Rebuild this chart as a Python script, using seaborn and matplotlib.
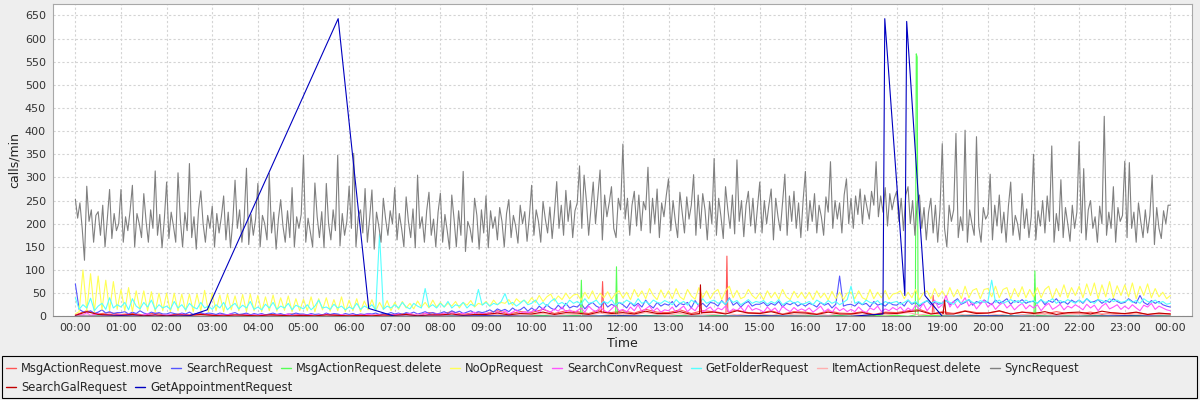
import numpy as np
import pandas as pd
import matplotlib
matplotlib.use("Agg")
import matplotlib.pyplot as plt
import seaborn as sns
from matplotlib.lines import Line2D
from matplotlib.patches import Rectangle

# ---------------- data ----------------
series_names = ["MsgActionRequest.move", "SearchRequest", "MsgActionRequest.delete",
                "NoOpRequest", "SearchConvRequest", "GetFolderRequest",
                "ItemActionRequest.delete", "SyncRequest", "SearchGalRequest",
                "GetAppointmentRequest"]
series_colors = ["#FF5555", "#5555FF", "#55FF55", "#FFFF55", "#FF55FF", "#55FFFF",
                 "#FFAFAF", "#808080", "#C00000", "#0000C0"]
hour_ticks = list(range(0, 25))
hour_labels = ["00:00", "01:00", "02:00", "03:00", "04:00", "05:00", "06:00", "07:00",
               "08:00", "09:00", "10:00", "11:00", "12:00", "13:00", "14:00", "15:00",
               "16:00", "17:00", "18:00", "19:00", "20:00", "21:00", "22:00", "23:00", "00:00"]
y_ticks = [0, 50, 100, 150, 200, 250, 300, 350, 400, 450, 500, 550, 600, 650]

# SyncRequest, one value every 3 minutes (20 per hour)
sync_step_min = 3
sync_calls = [
    253, 212, 245, 190, 121, 281, 205, 230, 160, 218, 226, 175, 240, 150, 210, 274, 168, 222, 185, 200,
    274, 160, 215, 185, 228, 283, 150, 222, 200, 170, 265, 205, 160, 230, 190, 314, 175, 220, 148, 210,
    290, 168, 225, 195, 160, 310, 210, 150, 224, 185, 330, 170, 215, 145, 230, 271, 200, 160, 218, 190,
    238, 150, 222, 180, 215, 260, 165, 225, 148, 205, 294, 190, 230, 160, 212, 320, 155, 220, 175, 210,
    287, 150, 218, 200, 165, 309, 180, 225, 145, 210, 252, 195, 160, 228, 170, 278, 150, 215, 190, 220,
    348, 160, 212, 182, 150, 288, 215, 170, 226, 148, 287, 200, 165, 230, 185, 348, 152, 222, 175, 205,
    281, 190, 352, 150, 215, 230, 180, 276, 160, 212, 273, 145, 225, 195, 160, 255, 210, 175, 228, 200,
    278, 165, 222, 190, 150, 258, 205, 170, 232, 148, 305, 190, 215, 160, 228, 268, 175, 210, 150, 225,
    266, 160, 220, 185, 145, 262, 210, 150, 228, 175, 313, 140, 205, 190, 160, 255, 218, 145, 230, 180,
    260, 148, 228, 190, 215, 165, 235, 205, 150, 222, 252, 170, 218, 195, 158, 240, 200, 226, 162, 215,
    283, 175, 230, 205, 160, 248, 210, 180, 236, 168, 225, 291, 190, 240, 175, 272, 205, 250, 170, 228,
    245, 325, 190, 305, 250, 175, 232, 290, 200, 258, 316, 165, 262, 215, 245, 280, 190, 170, 255, 230,
    372, 210, 255, 175, 240, 270, 195, 262, 185, 248, 230, 322, 180, 255, 200, 275, 170, 245, 215, 260,
    297, 185, 250, 205, 170, 268, 225, 180, 258, 210, 240, 306, 175, 262, 190, 265, 230, 165, 248, 200,
    341, 175, 255, 215, 168, 280, 230, 190, 262, 178, 338, 205, 250, 172, 240, 270, 195, 255, 180, 235,
    290, 180, 250, 200, 240, 275, 165, 255, 215, 185, 245, 307, 175, 260, 205, 270, 190, 245, 170, 250,
    313, 185, 250, 205, 265, 180, 240, 215, 175, 258, 225, 334, 190, 250, 210, 245, 180, 262, 297, 200,
    255, 190, 260, 220, 275, 200, 262, 235, 210, 270, 240, 334, 215, 260, 225, 278, 195, 265, 230, 255,
    270, 205, 255, 185, 262, 280, 200, 250, 175, 245, 262, 190, 235, 165, 225, 255, 180, 240, 160, 230,
    373, 190, 150, 240, 205, 230, 395, 170, 215, 185, 402, 160, 230, 200, 175, 388, 195, 160, 235, 210,
    220, 307, 165, 240, 195, 262, 180, 225, 160, 238, 290, 175, 218, 200, 165, 265, 190, 232, 170, 215,
    350, 165, 228, 195, 250, 180, 260, 205, 368, 160, 222, 185, 295, 170, 235, 200, 162, 240, 190, 225,
    377, 180, 319, 165, 230, 250, 190, 215, 160, 238, 200, 432, 175, 225, 190, 280, 160, 235, 205, 218,
    335, 170, 332, 190, 225, 160, 245, 205, 170, 230, 180, 218, 305, 155, 235, 190, 168, 228, 200, 240,
    240]

# 5-minute series (12 per hour)
fine_step_min = 5
noop_calls = [
    5, 10, 100, 12, 92, 10, 87, 14, 78, 12, 75, 15,
    58, 12, 62, 10, 55, 14, 55, 12, 53, 10, 50, 12,
    50, 10, 50, 12, 48, 11, 48, 10, 48, 12, 56, 10,
    50, 12, 46, 10, 48, 14, 44, 12, 47, 10, 48, 12,
    45, 10, 42, 12, 46, 11, 40, 13, 44, 10, 38, 12,
    37, 12, 42, 10, 38, 14, 40, 11, 36, 12, 42, 10,
    35, 12, 38, 10, 33, 14, 36, 12, 30, 15, 34, 12,
    30, 15, 32, 18, 28, 16, 33, 20, 30, 18, 35, 20,
    30, 20, 28, 22, 32, 18, 30, 24, 34, 20, 28, 25,
    32, 22, 35, 25, 30, 28, 36, 24, 38, 30, 35, 28,
    40, 30, 45, 32, 42, 48, 33, 44, 36, 50, 38, 46,
    48, 35, 52, 38, 55, 36, 50, 40, 53, 37, 48, 55,
    40, 52, 36, 58, 42, 55, 38, 60, 45, 36, 57, 40,
    55, 38, 60, 42, 36, 58, 44, 37, 62, 40, 55, 38,
    52, 58, 36, 55, 65, 40, 56, 38, 42, 58, 45, 38,
    50, 36, 55, 40, 52, 37, 58, 42, 36, 54, 40, 52,
    38, 52, 36, 55, 40, 50, 35, 54, 38, 52, 36, 50,
    52, 38, 55, 40, 36, 58, 38, 52, 40, 56, 37, 48,
    50, 55, 38, 52, 40, 58, 36, 50, 55, 38, 60, 42,
    55, 40, 62, 42, 58, 38, 65, 40, 56, 60, 38, 58,
    60, 42, 65, 40, 58, 62, 38, 60, 42, 64, 40, 58,
    42, 62, 40, 58, 65, 38, 60, 42, 68, 40, 62, 45,
    65, 40, 70, 45, 72, 38, 68, 42, 75, 40, 66, 45,
    68, 42, 72, 38, 65, 45, 70, 40, 60, 42, 52, 38,
    45]
folder_calls = [
    40, 15, 25, 18, 39, 12, 22, 28, 15, 40, 18, 25,
    20, 30, 14, 38, 22, 16, 30, 20, 35, 15, 25, 18,
    22, 15, 32, 18, 25, 14, 28, 20, 16, 30, 18, 22,
    15, 25, 18, 30, 14, 22, 28, 16, 24, 18, 32, 15,
    20, 14, 26, 18, 30, 15, 22, 18, 28, 14, 24, 20,
    16, 25, 14, 22, 35, 18, 20, 15, 26, 18, 22, 14,
    20, 16, 28, 15, 22, 18, 25, 14, 178, 15, 22, 18,
    25, 18, 30, 20, 16, 28, 22, 18, 60, 20, 25, 18,
    28, 20, 32, 18, 25, 22, 30, 18, 26, 22, 58, 24,
    30, 22, 28, 25, 32, 49, 26, 30, 22, 28, 35, 25,
    28, 35, 24, 30, 22, 32, 38, 26, 30, 24, 35, 28,
    32, 26, 38, 28, 30, 35, 25, 32, 28, 36, 24, 30,
    28, 35, 30, 25, 38, 28, 32, 26, 35, 30, 28, 34,
    30, 25, 36, 28, 32, 24, 35, 30, 26, 38, 28, 32,
    35, 28, 32, 26, 38, 30, 34, 25, 30, 36, 28, 32,
    30, 34, 26, 32, 28, 36, 25, 30, 34, 28, 32, 26,
    28, 32, 25, 35, 30, 26, 34, 28, 32, 25, 30, 36,
    65, 28, 32, 26, 35, 30, 28, 34, 25, 32, 28, 30,
    32, 26, 30, 35, 28, 32, 25, 30, 34, 28, 32, 30,
    28, 34, 30, 26, 35, 28, 32, 36, 30, 28, 34, 30,
    32, 78, 30, 35, 28, 32, 36, 30, 34, 28, 35, 30,
    34, 28, 36, 30, 32, 38, 28, 34, 30, 36, 32, 28,
    35, 30, 38, 32, 28, 36, 34, 30, 38, 32, 35, 30,
    32, 36, 30, 34, 28, 38, 32, 30, 35, 28, 32, 26,
    28]
search_calls = [
    70, 15, 10, 8, 12, 6, 9, 14, 7, 10, 6, 8,
    8, 10, 5, 9, 6, 12, 7, 5, 9, 6, 8, 5,
    5, 8, 6, 4, 7, 5, 9, 4, 6, 8, 5, 7,
    6, 4, 7, 5, 3, 6, 8, 4, 5, 7, 3, 6,
    4, 6, 3, 5, 7, 4, 6, 3, 5, 4, 7, 5,
    5, 3, 6, 4, 5, 3, 7, 4, 6, 5, 3, 6,
    4, 6, 3, 5, 4, 6, 5, 7, 4, 6, 5, 8,
    5, 7, 4, 8, 6, 9, 5, 7, 10, 6, 8, 5,
    7, 10, 6, 12, 8, 11, 6, 9, 12, 7, 10, 8,
    10, 14, 9, 16, 12, 15, 10, 18, 12, 14, 20, 11,
    18, 12, 22, 15, 25, 18, 14, 24, 16, 28, 18, 22,
    20, 28, 16, 25, 30, 22, 18, 32, 20, 26, 22, 30,
    25, 18, 30, 22, 28, 20, 35, 24, 18, 30, 22, 27,
    24, 32, 20, 28, 25, 30, 18, 34, 22, 28, 20, 30,
    28, 22, 34, 25, 40, 24, 30, 20, 28, 32, 22, 26,
    26, 30, 22, 28, 24, 32, 20, 28, 25, 30, 22, 27,
    22, 28, 25, 20, 30, 24, 28, 18, 26, 87, 22, 25,
    26, 22, 30, 25, 28, 20, 32, 24, 27, 22, 30, 25,
    24, 30, 22, 35, 26, 30, 22, 28, 34, 25, 30, 26,
    28, 35, 25, 32, 38, 26, 30, 36, 24, 32, 28, 35,
    30, 25, 35, 28, 32, 38, 26, 34, 30, 36, 28, 32,
    32, 28, 36, 25, 34, 30, 38, 28, 32, 26, 35, 30,
    35, 28, 38, 30, 32, 36, 28, 34, 30, 38, 32, 28,
    30, 38, 32, 28, 45, 30, 25, 34, 28, 32, 25, 22,
    20]
conv_calls = [
    2, 5, 3, 8, 2, 4, 6, 2, 3, 5, 2, 4,
    3, 2, 5, 1, 4, 2, 3, 6, 2, 4, 1, 3,
    2, 4, 1, 3, 5, 2, 3, 1, 4, 2, 5, 2,
    3, 1, 4, 2, 3, 5, 1, 3, 2, 4, 2, 3,
    2, 4, 2, 3, 1, 4, 3, 2, 5, 1, 3, 2,
    3, 2, 4, 1, 3, 2, 5, 2, 3, 1, 4, 2,
    2, 3, 1, 4, 2, 5, 3, 2, 4, 1, 3, 4,
    3, 5, 2, 4, 6, 3, 5, 2, 7, 4, 3, 5,
    4, 6, 3, 8, 5, 4, 7, 3, 6, 9, 4, 6,
    5, 8, 4, 10, 6, 12, 5, 9, 14, 6, 10, 8,
    10, 15, 8, 18, 12, 9, 16, 11, 20, 10, 14, 8,
    12, 18, 9, 22, 14, 10, 20, 13, 8, 16, 24, 12,
    15, 9, 20, 12, 25, 10, 16, 22, 11, 18, 9, 14,
    12, 20, 8, 16, 22, 10, 18, 12, 25, 9, 15, 20,
    10, 18, 14, 22, 9, 16, 12, 20, 10, 24, 13, 17,
    14, 9, 20, 12, 18, 8, 22, 15, 10, 19, 12, 16,
    12, 18, 9, 15, 22, 10, 16, 8, 20, 12, 17, 10,
    15, 10, 20, 12, 8, 18, 14, 22, 10, 16, 12, 19,
    14, 20, 10, 18, 12, 24, 15, 28, 12, 22, 35, 18,
    25, 45, 20, 32, 18, 28, 40, 22, 30, 16, 26, 35,
    20, 28, 15, 24, 30, 18, 25, 14, 22, 28, 16, 24,
    18, 25, 12, 22, 28, 15, 20, 26, 14, 22, 18, 25,
    20, 14, 26, 18, 24, 12, 22, 28, 16, 20, 25, 15,
    22, 16, 25, 18, 12, 24, 20, 28, 15, 22, 18, 14,
    12]

# 15-minute series (4 per hour) plus a few extra spike samples
coarse_step_min = 15
move_calls = [3, 12, 5, 8, 4, 6, 3, 7, 2, 5, 3, 6, 3, 4, 2, 5, 2, 4, 3, 5, 3, 2, 4, 3,
              2, 4, 3, 2, 4, 6, 3, 8, 5, 10, 4, 8, 6, 12, 5, 10, 8, 15, 6, 12, 10, 6, 14, 8,
              12, 7, 15, 9, 8, 14, 6, 12, 10, 6, 13, 8, 7, 12, 5, 10, 9, 5, 12, 7, 6, 10, 4, 9,
              8, 12, 15, 6, 10, 6, 12, 8, 7, 11, 5, 9, 8, 5, 10, 6, 6, 9, 4, 8, 5, 8, 4, 6, 5]
move_extra_t = [11.53, 11.555, 11.58, 14.26, 14.28, 14.30, 18.78, 18.80, 18.82]
move_extra_v = [8, 75, 9, 8, 130, 10, 6, 45, 6]

gal_calls = [2, 10, 4, 3, 2, 4, 1, 3, 1, 3, 2, 4, 2, 1, 3, 2, 1, 3, 2, 1, 2, 1, 3, 2,
             1, 2, 1, 3, 2, 4, 1, 3, 3, 5, 2, 4, 4, 7, 3, 6, 5, 9, 4, 8, 7, 4, 10, 6,
             8, 5, 11, 6, 6, 10, 4, 8, 9, 5, 12, 7, 6, 10, 4, 8, 7, 4, 9, 5, 5, 8, 3, 7,
             6, 10, 12, 5, 8, 5, 11, 6, 7, 12, 5, 9, 6, 10, 4, 8, 9, 5, 11, 7, 6, 9, 4, 7, 5]
gal_extra_t = [13.68, 13.70, 13.72, 19.02, 19.05, 19.08]
gal_extra_v = [6, 68, 7, 6, 35, 5]

itemdel_calls = [1, 3, 0, 2, 0, 2, 1, 0, 1, 0, 2, 1, 0, 1, 0, 2, 1, 0, 1, 0, 0, 2, 0, 1,
                 1, 0, 2, 0, 0, 1, 3, 1, 2, 0, 3, 1, 2, 4, 1, 3, 3, 6, 2, 5, 4, 2, 7, 3,
                 5, 3, 8, 4, 3, 6, 2, 5, 4, 7, 3, 6, 5, 2, 6, 3, 3, 5, 2, 6, 4, 2, 5, 3,
                 5, 8, 3, 6, 4, 7, 3, 5, 6, 3, 7, 4, 3, 6, 2, 5, 5, 3, 6, 4, 3, 5, 2, 4, 3]

msgdel_calls = [1, 0, 1, 0, 0, 1, 0, 0, 1, 0, 0, 1, 0, 0, 1, 0, 0, 1, 0, 0, 1, 0, 0, 1,
                0, 1, 0, 0, 1, 0, 1, 0, 0, 1, 0, 1, 1, 0, 2, 0, 1, 2, 0, 1, 2, 1, 0, 2,
                1, 0, 2, 1, 0, 2, 1, 0, 2, 1, 0, 1, 1, 2, 0, 1, 2, 0, 1, 2, 0, 1, 2, 1,
                2, 0, 1, 2, 1, 0, 2, 1, 0, 2, 1, 0, 2, 1, 0, 1, 0, 2, 1, 0, 1, 2, 0, 1, 1]
msgdel_extra_t = [11.07, 11.09, 11.11, 11.84, 11.86, 11.88, 18.41, 18.43, 18.45, 18.47,
                  21.01, 21.03, 21.05]
msgdel_extra_v = [2, 78, 2, 2, 107, 2, 3, 567, 560, 3, 2, 98, 2]

# GetAppointmentRequest: sparse samples (hours, calls/min)
appt_t = [0.0, 0.5, 1.0, 1.5, 2.0, 2.5, 2.89, 5.76, 6.43, 7.0, 8.0, 9.0, 10.0, 11.0, 12.0,
          13.0, 14.0, 15.0, 16.0, 17.0, 17.70, 17.74, 18.18, 18.22, 18.62, 19.0, 20.0,
          21.0, 22.0, 23.0, 24.0]
appt_v = [0, 0, 1, 0, 0, 1, 14, 643, 17, 0, 0, 1, 0, 0, 1, 0, 0, 1, 0, 0, 5, 643, 45,
          637, 45, 0, 1, 0, 0, 1, 0]


# ---------------- assemble ----------------
def build(name, values, step_min, extra_t=(), extra_v=()):
    t = list(np.arange(len(values)) * step_min / 60.0) + list(extra_t)
    v = list(values) + list(extra_v)
    order = np.argsort(np.asarray(t), kind="stable")
    return pd.DataFrame({"Time": np.asarray(t, float)[order],
                         "calls": np.asarray(v, float)[order],
                         "series": name})


frames = [
    build("MsgActionRequest.move", move_calls, coarse_step_min, move_extra_t, move_extra_v),
    build("SearchRequest", search_calls, fine_step_min),
    build("MsgActionRequest.delete", msgdel_calls, coarse_step_min, msgdel_extra_t, msgdel_extra_v),
    build("NoOpRequest", noop_calls, fine_step_min),
    build("SearchConvRequest", conv_calls, fine_step_min),
    build("GetFolderRequest", folder_calls, fine_step_min),
    build("ItemActionRequest.delete", itemdel_calls, coarse_step_min),
    build("SyncRequest", sync_calls, sync_step_min),
    build("SearchGalRequest", gal_calls, coarse_step_min, gal_extra_t, gal_extra_v),
    pd.DataFrame({"Time": appt_t, "calls": appt_v, "series": "GetAppointmentRequest"}),
]
df = pd.concat(frames, ignore_index=True)

# ---------------- plot ----------------
sns.set_style("white")
plt.rcParams["font.family"] = ["DejaVu Sans"]

fig = plt.figure(figsize=(12, 4), dpi=100, facecolor="#EEEEEE")
ax = fig.add_axes([53 / 1200, 1 - 316.3 / 400, (1192.3 - 53) / 1200, (316.3 - 4.3) / 400])
ax.set_facecolor("white")

palette = dict(zip(series_names, series_colors))
sns.lineplot(data=df, x="Time", y="calls", hue="series", hue_order=series_names,
             palette=palette, estimator=None, sort=False, linewidth=0.8,
             legend=False, ax=ax)

ax.set_xlim(-0.49, 24.48)
ax.set_ylim(0, 674)
ax.set_xticks(hour_ticks)
ax.set_xticklabels(hour_labels)
ax.set_yticks(y_ticks)
ax.grid(True, color="#D4D4D4", linestyle=(0, (2, 2)), linewidth=0.8)
ax.set_axisbelow(True)
for s in ax.spines.values():
    s.set_color("#A8A8A8")
    s.set_linewidth(0.8)
ax.spines["bottom"].set_color("#888888")
ax.tick_params(axis="both", direction="out", length=3, width=0.8, color="#A0A0A0",
               labelsize=8, labelcolor="#333333", pad=2)
ax.set_xlabel("Time", fontsize=9, color="#222222", labelpad=3)
ax.set_ylabel("calls/min", fontsize=9, color="#222222", labelpad=3)

handles = [Line2D([0], [0], color=c, lw=1.0) for c in series_colors]
leg_kw = dict(frameon=False, fontsize=8.3, handlelength=0.9, handletextpad=0.4,
              columnspacing=0.7, borderpad=0, borderaxespad=0, loc="center left")
leg1 = fig.legend(handles[:8], series_names[:8], ncol=8,
                  bbox_to_anchor=(6 / 1200, 1 - 368.5 / 400), **leg_kw)
leg2 = fig.legend(handles[8:], series_names[8:], ncol=2,
                  bbox_to_anchor=(6 / 1200, 1 - 387.5 / 400), **leg_kw)
fig.add_artist(Rectangle((2 / 1200, 2.3 / 400), 1195 / 1200, 41.4 / 400,
                         transform=fig.transFigure, fill=False, edgecolor="black",
                         linewidth=0.8))

fig.savefig("out.png", dpi=100, facecolor=fig.get_facecolor())
